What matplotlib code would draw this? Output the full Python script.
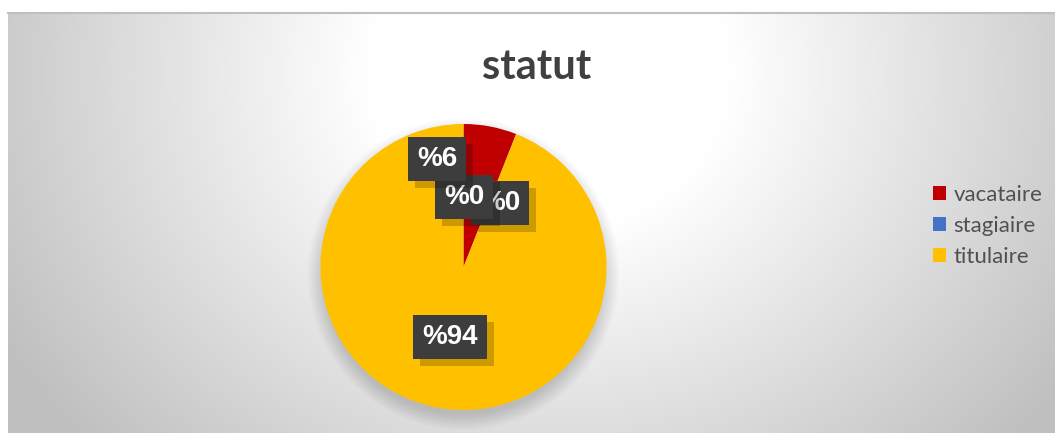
import numpy as np
import matplotlib
matplotlib.use("Agg")
import matplotlib.pyplot as plt
import matplotlib.patheffects as pe
from matplotlib.patches import Patch, Circle

# data
categories = ["vacataire", "stagiaire", "", "titulaire"]
values = [6, 0, 0, 94]
colors = ["#C00000", "#4472C4", "#A5A5A5", "#FFC000"]
label_texts = ["%6", "%0", "%0", "%94"]
legend_cats = ["vacataire", "stagiaire", "titulaire"]
legend_colors = ["#C00000", "#4472C4", "#FFC000"]

# label placement in pie units (radius = 1)
label_pos = [(-0.185, 0.755), (0.003, 0.49), (0.255, 0.448), (-0.094, -0.49)]

W, H = 1055, 433
fig = plt.figure(figsize=(W / 100, H / 100), dpi=100)
fig.patch.set_facecolor("white")

# chart area background with radial gradient
bg = fig.add_axes([8 / W, 0, 1 - 8 / W, (H - 13) / H])
bw, bh = W - 8, H - 13
yy, xx = np.mgrid[0:bh, 0:bw]
d = np.sqrt(((xx - 540) / 600.0) ** 2 + ((yy - 60) / 520.0) ** 2)
g = 1 - 0.25 * np.clip((d - 0.3) / 0.75, 0, 1)
bg.imshow(np.dstack([g, g, g]), aspect="auto", extent=(0, bw, bh, 0))
bg.set_axis_off()
fig.add_artist(plt.Line2D([8 / W, 1], [(H - 13) / H] * 2, color="#bfbfbf", lw=1.5))

# pie
cx, cy, r = 463.5, 267, 143
ax = fig.add_axes([(cx - r) / W, (H - cy - r) / H, 2 * r / W, 2 * r / H])
ax.set_axis_off()

for i in range(10):
    ax.add_patch(Circle((0, -0.05), 0.98 + 0.012 * i, color="black", alpha=0.016,
                        lw=0, zorder=0, clip_on=False))

wedges, _ = ax.pie(values, colors=colors, startangle=90, counterclock=False,
                   radius=1, wedgeprops=dict(linewidth=0), frame=False)
for w in wedges:
    w.set_clip_on(False)
ax.set_xlim(-1, 1)
ax.set_ylim(-1, 1)

for i, (txt, (px, py)) in enumerate(zip(label_texts, label_pos)):
    t = ax.text(px, py, txt, ha="center", va="center", color="white",
                fontsize=20, fontweight="bold", family="Liberation Sans", zorder=10 - i,
                bbox=dict(boxstyle="square,pad=0.33", fc="#3d3d3d", ec="none"))
    t.get_bbox_patch().set_path_effects(
        [pe.SimplePatchShadow(offset=(5, -5), shadow_rgbFace="black", alpha=0.2), pe.Normal()])

fig.text(537 / W, 1 - 67 / H, "statut", ha="center", va="center",
         fontsize=30, fontweight="bold", family="Lato", color="#404040")

handles = [Patch(facecolor=c, edgecolor="none") for c in legend_colors]
fig.legend(handles, legend_cats, loc="center left", bbox_to_anchor=(933 / W, 1 - 226 / H),
           frameon=False, borderpad=0, borderaxespad=0, handlelength=0.6, handleheight=0.6,
           handletextpad=0.33, labelspacing=0.5, prop=dict(family="Lato", size=16),
           labelcolor="#505050")

fig.savefig("out.png", dpi=100)
